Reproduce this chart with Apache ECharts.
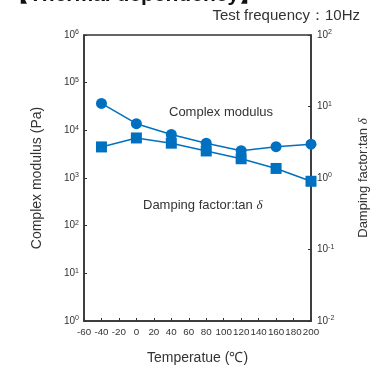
<!DOCTYPE html>
<html>
<head>
<meta charset="utf-8">
<script src="https://cdn.jsdelivr.net/npm/echarts@6/dist/echarts.min.js"></script>
<style>
  html, body { margin: 0; padding: 0; background: #fff; }
  #chart { width: 374px; height: 372px; }
</style>
</head>
<body>
<div id="chart"></div>
<script>
// temperatures (°C)
const temps = [-40, 0, 40, 80, 120, 160, 200];
// complex modulus (Pa), left axis
const modulus = [36700, 13800, 8190, 5380, 3740, 4540, 5130];
// damping factor tan δ, right axis
const tanDelta = [2.72, 3.63, 3.07, 2.39, 1.86, 1.36, 0.90];

const blue = '#0070c0';
const ink = '#333';

const chart = echarts.init(document.getElementById('chart'));

function powLabel(v) {
    const e = Math.round(Math.log10(v));
    return '{b|10}{s|' + e + '}';
}
const powRich = {
    b: {fontSize: 10, color: ink, fontFamily: 'Liberation Sans'},
    s: {fontSize: 7, color: ink, fontFamily: 'Liberation Sans', verticalAlign: 'top', padding: [0, 0, 5, 0]}
};

const option = {
    animation: false,
    grid: {
        left: 84,
        right: 63,
        top: 35,
        bottom: 51,
        outerBoundsMode: 'none',
        containLabel: false,
        show: true,
        borderColor: ink,
        borderWidth: 1.5
    },
    xAxis: {
        type: 'value',
        min: -60,
        max: 200,
        interval: 20,
        name: 'Temperatue (℃)',
        nameLocation: 'middle',
        nameGap: 30,
        nameTextStyle: {fontSize: 14, color: ink, fontFamily: 'Liberation Sans'},
        axisLine: {lineStyle: {color: ink, width: 1.5}},
        axisTick: {inside: true, length: 3, lineStyle: {color: ink}},
        axisLabel: {fontSize: 9.8, color: ink, margin: 6, fontFamily: 'Liberation Sans'},
        splitLine: {show: false}
    },
    yAxis: [
        {
            type: 'log',
            logBase: 10,
            min: 1,
            max: 1e6,
            name: 'Complex modulus (Pa)',
            nameLocation: 'middle',
            nameGap: 40,
            nameTextStyle: {fontSize: 14, color: ink, fontFamily: 'Liberation Sans'},
            axisLine: {show: true, onZero: false, lineStyle: {color: ink, width: 1.5}},
            axisTick: {inside: true, length: 3, lineStyle: {color: ink}},
            axisLabel: {formatter: powLabel, rich: powRich, margin: 5},
            splitLine: {show: false}
        },
        {
            type: 'log',
            logBase: 10,
            min: 0.01,
            max: 100,
            position: 'right',
            name: '{a|Damping factor:tan }{d|δ}',
            nameLocation: 'middle',
            nameGap: 46,
            nameRotate: 90,
            nameTextStyle: {
                rich: {
                    a: {fontSize: 13, color: ink, fontFamily: 'Liberation Sans'},
                    d: {fontSize: 13, color: ink, fontStyle: 'italic', fontFamily: 'Liberation Serif'}
                }
            },
            axisLine: {show: true, onZero: false, lineStyle: {color: ink, width: 1.5}},
            axisTick: {inside: true, length: 3, lineStyle: {color: ink}},
            axisLabel: {formatter: powLabel, rich: powRich, margin: 6},
            splitLine: {show: false}
        }
    ],
    graphic: [
        {
            type: 'text', left: 8, top: -15,
            style: {text: '【Thermal dependency】', fontSize: 21, fontWeight: 'bold', fill: '#111', fontFamily: 'Liberation Sans'}
        },
        {
            type: 'text', right: 14, top: 8,
            style: {text: 'Test frequency：10Hz', fontSize: 15, fill: ink, fontFamily: 'Liberation Sans'}
        },
        {
            type: 'text', left: 169, top: 106,
            style: {text: 'Complex modulus', fontSize: 13, fill: ink, fontFamily: 'Liberation Sans'}
        },
        {
            type: 'text', left: 143, top: 199,
            style: {
                text: '{a|Damping factor:tan }{d|δ}',
                rich: {
                    a: {fontSize: 13, fill: ink, fontFamily: 'Liberation Sans'},
                    d: {fontSize: 13, fill: ink, fontStyle: 'italic', fontFamily: 'Liberation Serif'}
                }
            }
        }
    ],
    series: [
        {
            name: 'Complex modulus',
            type: 'line',
            yAxisIndex: 0,
            data: temps.map((t, i) => [t, modulus[i]]),
            symbol: 'circle',
            symbolSize: 11,
            itemStyle: {color: blue},
            lineStyle: {color: blue, width: 1.5}
        },
        {
            name: 'Damping factor',
            type: 'line',
            yAxisIndex: 1,
            data: temps.map((t, i) => [t, tanDelta[i]]),
            symbol: 'rect',
            symbolSize: 11,
            itemStyle: {color: blue},
            lineStyle: {color: blue, width: 1.5}
        }
    ]
};

chart.setOption(option);
</script>
</body>
</html>
